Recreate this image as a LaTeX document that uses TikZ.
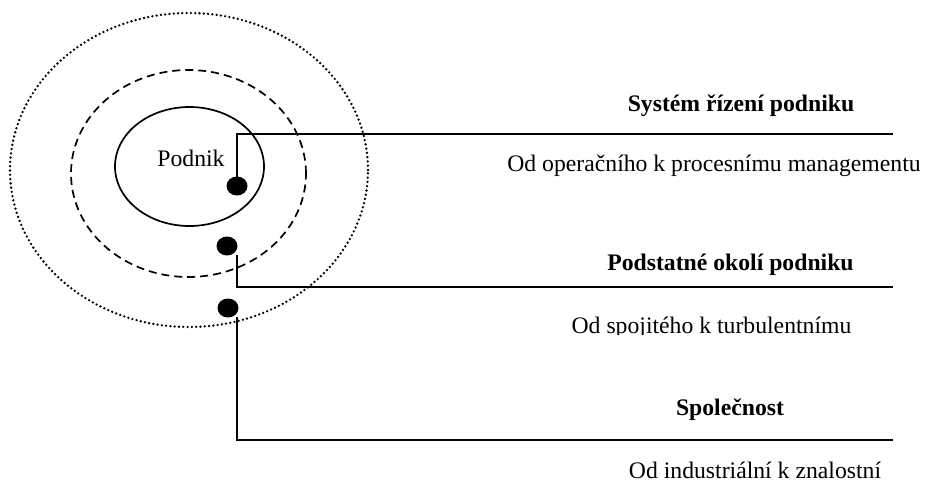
\documentclass[tikz,border=0pt]{standalone}
\usepackage{fontspec}
\setmainfont{Liberation Serif}
\usetikzlibrary{shapes.geometric}
\tikzset{
  ring/.style={ellipse, draw, inner sep=0pt},
  solidring/.style={ring, line width=1.7pt},
  dashring/.style={ring, line width=1.7pt, dash pattern=on 8pt off 5pt},
  dotring/.style={ring, line width=2.6pt, dash pattern=on 0pt off 4.3pt, line cap=round},
  blob/.style={ellipse, fill=black, minimum width=21pt, minimum height=19pt, inner sep=0pt},
  conn/.style={line width=1.8pt},
  lbl/.style={font=\fontsize{23.7}{28}\selectfont, anchor=base, inner sep=0pt},
  blbl/.style={lbl, font=\fontsize{23.7}{28}\selectfont\bfseries}
}
\begin{document}
\begin{tikzpicture}[x=1pt,y=-1pt]
\useasboundingbox (0,0) rectangle (926,482);
\node[dotring, minimum width=358pt, minimum height=314pt] (outer) at (189,170) {};
\node[dashring, minimum width=235pt, minimum height=207pt] (mid) at (188.5,173.5) {};
\node[solidring, minimum width=149pt, minimum height=119pt] (inner) at (189.5,166.5) {};
\node[lbl] (podnik) at (191,166) {Podnik};
\node[blob] (d1) at (237,186) {};
\node[blob] (d2) at (227,246) {};
\node[blob] (d3) at (228,308) {};
\coordinate (c1a) at (237,134);
\coordinate (c1b) at (893,134);
\coordinate (c2s) at (237,255);
\coordinate (c2a) at (237,287);
\coordinate (c2b) at (893,287);
\coordinate (c3s) at (237,317);
\coordinate (c3a) at (237,440);
\coordinate (c3b) at (893,440);
\draw[conn] (d1.center) -- (c1a) -- (c1b);
\draw[conn] (c2s) -- (c2a) -- (c2b);
\draw[conn] (c3s) -- (c3a) -- (c3b);
\node[blbl] (t1) at (741,111) {Systém řízení podniku};
\node[lbl] (s1) at (714,171) {Od operačního k procesnímu managementu};
\node[blbl] (t2) at (730.5,270) {Podstatné okolí podniku};
\begin{scope}
\clip (0,0) rectangle (926,334);
\node[lbl] (s2) at (711.5,333) {Od spojitého k turbulentnímu};
\end{scope}
\node[blbl] (t3) at (730,415) {Společnost};
\node[lbl] (s3) at (755,478) {Od industriální k znalostní};
\end{tikzpicture}
\end{document}
